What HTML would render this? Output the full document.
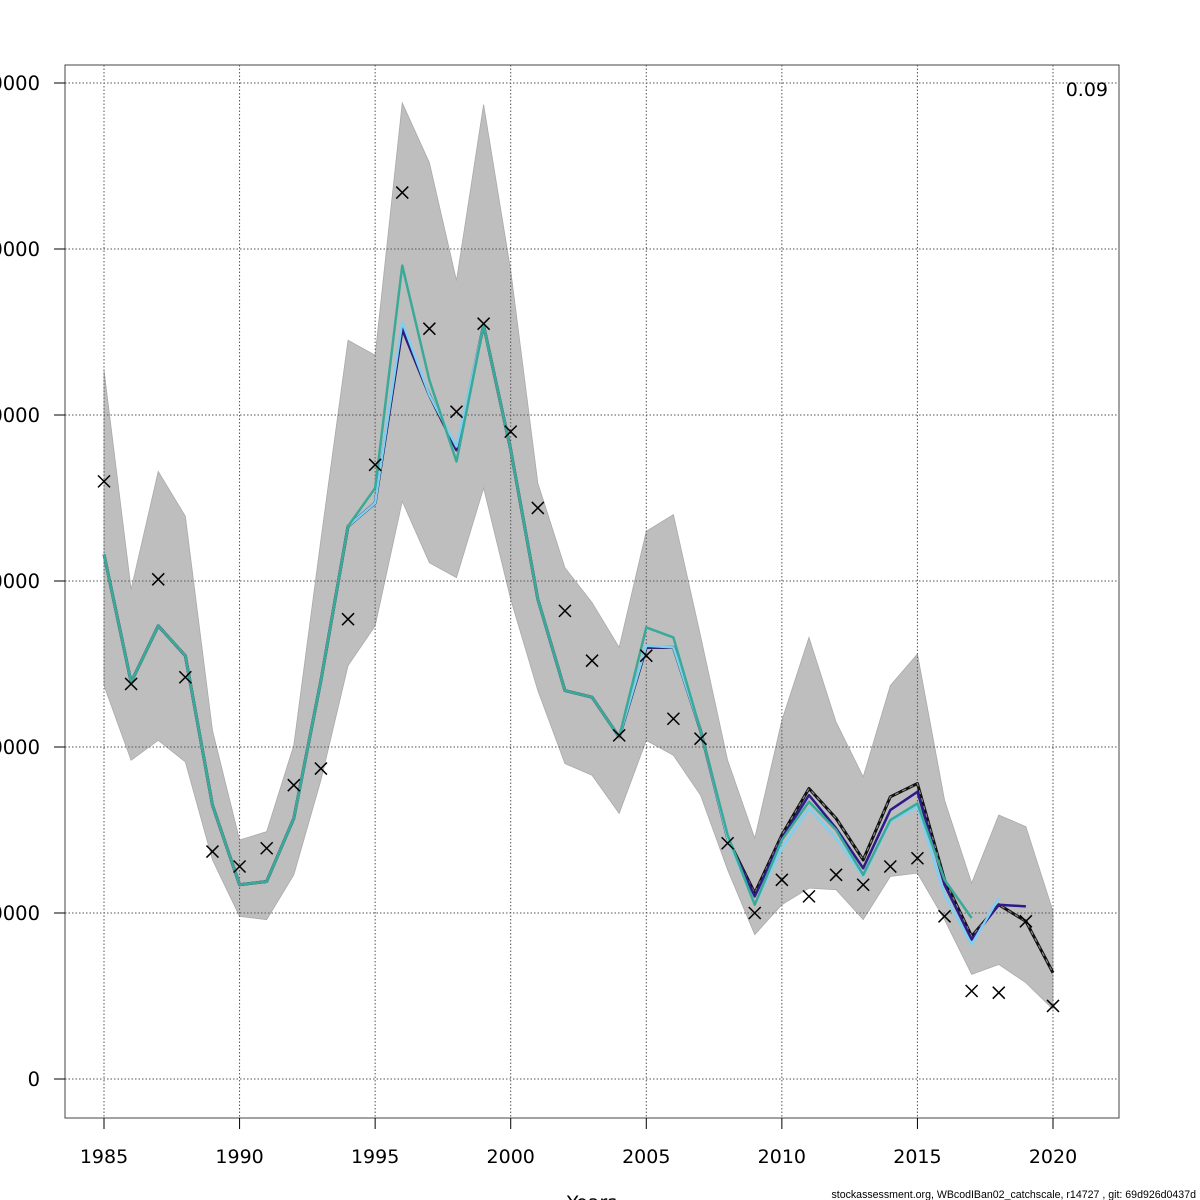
<!DOCTYPE html>
<html><head><meta charset="utf-8"><style>
html,body{margin:0;padding:0;background:#fff;}
svg{display:block;font-family:"DejaVu Sans","Liberation Sans",sans-serif;}
</style></head><body>
<svg id="chart" width="1200" height="1200" viewBox="0 0 1200 1200">
<g id="grid"></g>
<g id="band"></g>
<g id="lines"></g>
<g id="pts"></g>
<g id="axes"></g>
<text x="1108" y="96" font-size="19" text-anchor="end">0.09</text>
<text x="592" y="1209" font-size="19" text-anchor="middle">Years</text>
<text x="1196" y="1198" font-size="10.6" text-anchor="end" font-family="Liberation Sans, sans-serif">stockassessment.org, WBcodIBan02_catchscale, r14727 , git: 69d926d0437d</text>
</svg>
<script>
const years=[1985,1986,1987,1988,1989,1990,1991,1992,1993,1994,1995,1996,1997,1998,1999,2000,2001,2002,2003,2004,2005,2006,2007,2008,2009,2010,2011,2012,2013,2014,2015,2016,2017,2018,2019,2020];
const upper=[42.7,29.5,36.6,33.9,21.0,14.4,14.9,20.1,32.5,44.5,43.6,58.8,55.2,48.1,58.7,48.7,35.9,30.8,28.7,26.0,33.0,34.0,26.7,19.2,14.5,21.6,26.6,21.5,18.2,23.7,25.6,16.8,11.8,15.9,15.2,10.1];
const lower=[23.7,19.2,20.4,19.1,13.2,9.8,9.6,12.3,18.0,24.9,27.3,34.8,31.1,30.2,35.6,28.9,23.4,19.0,18.3,16.0,20.4,19.5,17.1,12.6,8.7,10.5,11.5,11.4,9.6,12.2,12.4,9.6,6.3,6.9,5.8,4.2];
const observed=[36.0,23.8,30.1,24.2,13.7,12.8,13.9,17.7,18.7,27.7,37.0,53.4,45.2,40.2,45.5,39.0,34.4,28.2,25.2,20.7,25.5,21.7,20.5,14.2,10.0,12.0,11.0,12.3,11.7,12.8,13.3,9.8,5.3,5.2,9.5,4.4];
const fitAll=[31.6,23.9,27.3,25.5,16.5,11.7,11.9,15.7,24.0,33.3,34.7,45.2,41.2,37.9,45.4,37.9,28.9,23.4,23.0,20.6,26.0,26.0,21.0,14.5,11.2,14.7,17.5,15.7,13.2,17.0,17.8,12.0,8.6,10.5,9.5,6.4];
const fitM1=[31.6,23.9,27.3,25.5,16.5,11.7,11.9,15.7,24.0,33.3,34.7,45.2,41.2,37.9,45.4,37.9,28.9,23.4,23.0,20.6,26.0,26.0,21.0,14.5,11.0,14.5,17.1,15.1,12.7,16.2,17.3,11.7,8.4,10.5,10.4];
const fitM2=[31.6,23.9,27.3,25.5,16.5,11.7,11.9,15.7,24.0,33.3,34.7,45.6,41.2,38.1,45.4,37.9,28.9,23.4,23.0,20.6,26.1,26.0,21.0,14.5,10.5,13.9,16.3,14.5,12.2,15.5,16.4,11.1,8.1,10.9];
const fitM3=[31.6,23.9,27.3,25.5,16.5,11.7,11.9,15.7,24.0,33.3,35.6,49.0,42.1,37.2,45.4,37.9,28.9,23.4,23.0,20.6,27.2,26.6,21.0,14.7,10.5,14.4,16.7,15.0,12.3,15.6,16.6,12.0,9.7];
const yTicks=[0,10,20,30,40,50,60];
const yLabels=["0","10000","20000","30000","40000","50000","60000"];
const xTicks=[1985,1990,1995,2000,2005,2010,2015,2020];

const NS="http://www.w3.org/2000/svg";
const L=65,R=1119,T=65,B=1118;
const X=yr=>104+(yr-1985)*(1053-104)/35;
const Y=v=>1079-v*16.6;
function mk(tag,attrs,parent){const e=document.createElementNS(NS,tag);for(const k in attrs)e.setAttribute(k,attrs[k]);parent.appendChild(e);return e;}
const grid=document.getElementById('grid'),band=document.getElementById('band'),lines=document.getElementById('lines'),pts=document.getElementById('pts'),axes=document.getElementById('axes');

let d="";
years.forEach((yr,i)=>{d+=(i?"L":"M")+X(yr)+","+Y(upper[i]);});
for(let i=years.length-1;i>=0;i--)d+="L"+X(years[i])+","+Y(lower[i]);
const bp=mk('path',{d:d+"Z",fill:"#bebebe",stroke:"#aaaaaa","stroke-width":"0.8"},band);



yTicks.forEach(v=>{const g=mk('line',{x1:L,x2:R,y1:Y(v),y2:Y(v),stroke:"#555","stroke-width":"1","stroke-dasharray":"1.5,2"},grid);

});
xTicks.forEach(yr=>{const g=mk('line',{x1:X(yr),x2:X(yr),y1:T,y2:B,stroke:"#555","stroke-width":"1","stroke-dasharray":"1.5,2"},grid);

});
document.getElementById('chart').insertBefore(band,grid);

function line(vals,color,w,name,dash){
  const p=vals.map((v,i)=>(i?"L":"M")+X(years[i])+","+Y(v)).join("");
  const e=mk('path',{d:p,fill:"none",stroke:color,"stroke-width":w,"stroke-linejoin":"round"},lines);
  if(dash)e.setAttribute('stroke-dasharray',dash);
  
  
}
line(fitAll,"#111",3,"fit-full-line");
line(fitAll,"#888",1.2,"fit-full-dash","4,4");
line(fitM1,"#2e1a8a",2.5,"retro-1-line");
line(fitM2,"#7fd0f0",2.5,"retro-2-line");
line(fitM3,"#3aaa98",2.5,"retro-3-line");

observed.forEach((v,i)=>{const x=X(years[i]),y=Y(v),s=6;
  const g=mk('path',{d:`M${x-s},${y-s}L${x+s},${y+s}M${x-s},${y+s}L${x+s},${y-s}`,stroke:"#000","stroke-width":"1.5",fill:"none"},pts);
  
  });

const box=mk('rect',{x:L,y:T,width:R-L,height:B-T,fill:"none",stroke:"#444","stroke-width":"1"},axes);


yTicks.forEach((v,i)=>{mk('line',{x1:54,x2:L,y1:Y(v),y2:Y(v),stroke:"#000"},axes);
  const t=mk('text',{x:40,y:Y(v)+7,"font-size":"19.5","text-anchor":"end"},axes);t.textContent=yLabels[i];
  
  });
xTicks.forEach(yr=>{mk('line',{x1:X(yr),x2:X(yr),y1:B,y2:B+11,stroke:"#000"},axes);
  const t=mk('text',{x:X(yr),y:1163,"font-size":"19","text-anchor":"middle"},axes);t.textContent=yr;
  
  });
</script>
</body></html>
